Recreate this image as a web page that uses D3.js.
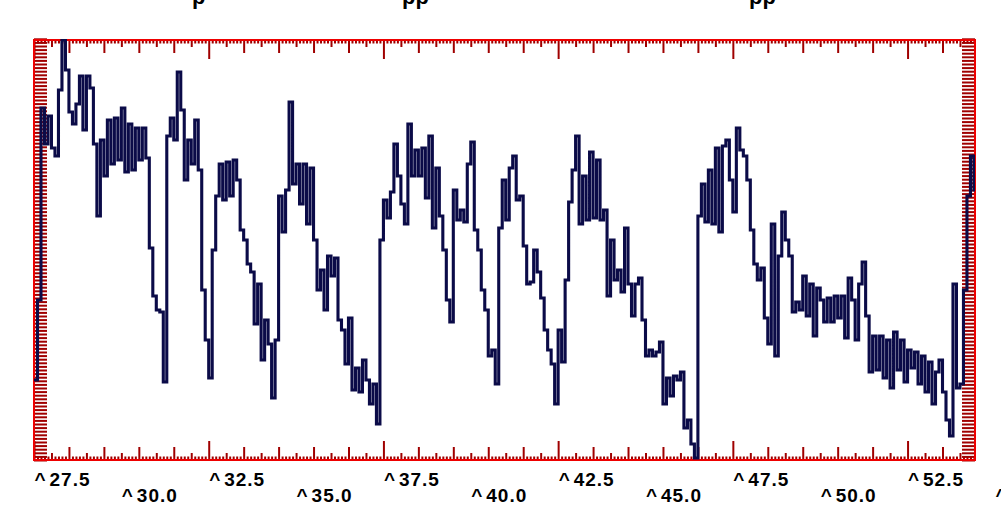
<!DOCTYPE html>
<html>
<head>
<meta charset="utf-8">
<script src="https://cdn.jsdelivr.net/npm/d3@7"></script>
<style>
  html, body { margin: 0; padding: 0; background: #ffffff; }
  svg { display: block; }
</style>
</head>
<body>
<script>
// ---- data ----
const xStart = 27.5;      // first sample position
const xStep = 0.1;        // sample spacing
const xLabels = [27.5, 30.0, 32.5, 35.0, 37.5, 40.0, 42.5, 45.0, 47.5, 50.0, 52.5, 55.0];
const signal = [
  20, 40, 88, 79, 86, 78, 76, 92.5, 105, 97.5,
  87, 84, 89, 96, 82.5, 96, 93, 79, 61, 80,
  71, 85, 74, 85.5, 75, 88, 72, 84, 72.5, 83,
  75, 83, 75.5, 53, 41, 37.5, 37, 19.5, 81, 85.5,
  80, 97, 87.5, 70, 80, 74, 85, 72.5, 42.5, 30,
  20.5, 52.5, 66, 74, 65, 74.5, 66, 75, 70, 57.5,
  55, 49, 47, 34, 44, 25, 35, 29, 15.5, 30,
  66, 57, 67.5, 89.5, 69, 74, 64, 74, 59, 73,
  55, 42.5, 47.5, 37.5, 51, 46, 50.5, 35, 32.5, 24,
  35.5, 17.5, 23, 17, 25, 20, 14, 19, 9, 55,
  65, 60.5, 67, 79, 71, 64, 59, 84, 71, 77.5,
  71, 78, 65.5, 81, 58, 73, 61, 52.5, 40, 34.5,
  67.5, 60, 62.5, 59.5, 74, 79.5, 57.5, 52.5, 42.5, 37.5,
  26, 27.5, 19, 58, 70, 60, 73, 76, 65, 66,
  53.5, 44, 44.5, 52.5, 47, 40.5, 32.5, 27.5, 24, 14,
  32.5, 24.5, 45, 64.5, 72.5, 81, 59, 71, 60, 77,
  60.5, 75, 60, 62.5, 41, 55, 45, 47.5, 42, 58,
  44, 36, 44, 45.5, 35, 26, 27.5, 26, 27, 29.5,
  14, 20.5, 16, 21, 20, 22, 8, 10, 4, 0.5,
  61, 69, 59.5, 72.5, 59, 78, 57, 78.5, 80, 70,
  62, 83, 77.5, 76, 70, 57.5, 49, 45, 48, 35.5,
  29, 59, 26, 51, 62, 55, 51, 37, 39.5, 37.5,
  46, 36, 44, 31, 43, 40, 34.5, 40.5, 34.5, 41,
  35.5, 41, 30.5, 45.5, 40, 30, 44, 49.5, 36, 22,
  31, 22.5, 31, 20.5, 30, 18, 32, 22.5, 30, 19.5,
  27.5, 23, 27, 19, 26, 17, 24.5, 14, 22, 25,
  17, 10, 6, 44, 18, 19, 42.5, 66, 76, 67.5,
  77
];
const titleBits = [{t: "p", x: 192}, {t: "pp", x: 402}, {t: "pp", x: 749}];

// ---- layout ----
const W = 1001, H = 515;
const L = 34, R = 975, T = 40, B = 460;
const frameColor = "#ee0000";
const tickColor = "#a00000";
const lineColor = "#0b0b48";

const svg = d3.select("body").append("svg").attr("width", W).attr("height", H);

const x = d3.scaleLinear().domain([27.5, 54.43]).range([L, R]);
const y = d3.scaleLinear().domain([0, 105]).range([B, T]);

// x tick groups
const allX = d3.range(0, 270).map(k => ({k, v: xStart + k * 0.1}));
const xTiny = allX.filter(d => d.k % 5 !== 0).map(d => d.v);
const xSmall = allX.filter(d => d.k % 5 === 0 && d.k % 10 !== 0).map(d => d.v);
const xMed = allX.filter(d => d.k % 10 === 0 && d.k % 50 !== 0).map(d => d.v);
const xLong = allX.filter(d => d.k % 50 === 0).map(d => d.v);
const tickGroups = [[xTiny, 3.5], [xSmall, 7], [xMed, 13], [xLong, 19]];

function styleAxis(g) {
  g.select(".domain").remove();
  g.selectAll(".tick line").attr("stroke", tickColor).attr("stroke-width", 2);
  g.selectAll(".tick text").remove();
}

tickGroups.forEach(([vals, len]) => {
  svg.append("g").attr("transform", `translate(0,${T})`)
    .call(d3.axisBottom(x).tickValues(vals).tickSize(len).tickFormat(""))
    .call(styleAxis);
  svg.append("g").attr("transform", `translate(0,${B})`)
    .call(d3.axisTop(x).tickValues(vals).tickSize(len).tickFormat(""))
    .call(styleAxis);
});

// y ticks (dense, unlabeled)
const yTicks = d3.range(0, 106, 0.9);
svg.append("g").attr("transform", `translate(${L},0)`)
  .call(d3.axisRight(y).tickValues(yTicks).tickSize(13).tickFormat(""))
  .call(styleAxis);
svg.append("g").attr("transform", `translate(${R},0)`)
  .call(d3.axisLeft(y).tickValues(yTicks).tickSize(13).tickFormat(""))
  .call(styleAxis);

// frame
svg.append("rect")
  .attr("x", L).attr("y", T).attr("width", R - L).attr("height", B - T)
  .attr("fill", "none").attr("stroke", frameColor).attr("stroke-width", 2);

// clip
svg.append("clipPath").attr("id", "plotclip")
  .append("rect").attr("x", L).attr("y", T - 1).attr("width", R - L).attr("height", B - T + 2);

// signal line
const line = d3.line()
  .x((d, i) => x(xStart + i * xStep))
  .y(d => y(d))
  .curve(d3.curveStepAfter);

svg.append("path")
  .datum(signal)
  .attr("clip-path", "url(#plotclip)")
  .attr("d", line)
  .attr("fill", "none")
  .attr("stroke", lineColor)
  .attr("stroke-width", 3.1)
  .attr("stroke-linejoin", "miter");

// axis labels with caret markers
const lab = svg.append("g")
  .attr("font-family", "'Liberation Sans', Arial, sans-serif")
  .attr("font-weight", "bold")
  .attr("font-size", 19)
  .attr("fill", "#000");

xLabels.forEach((v, i) => {
  const px = x(v);
  const by = i % 2 === 0 ? 486 : 502;
  const t = lab.append("text").attr("y", by);
  t.append("tspan").attr("x", px + 0.5).text("^");
  t.append("tspan").attr("x", px + 15.5).attr("letter-spacing", 1).text(v.toFixed(1));
});

// clipped title fragments at the very top
svg.append("g")
  .attr("font-family", "'Liberation Sans', Arial, sans-serif")
  .attr("font-weight", "bold")
  .attr("font-size", 22)
  .attr("fill", "#000")
  .selectAll("text").data(titleBits).join("text")
  .attr("x", d => d.x).attr("y", 4)
  .text(d => d.t);
</script>
</body>
</html>
